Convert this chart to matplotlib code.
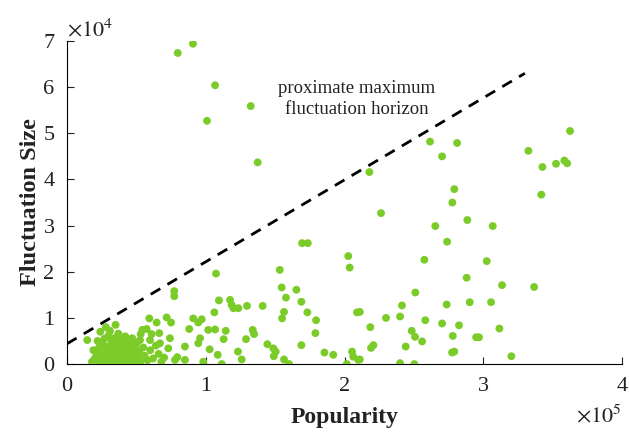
import matplotlib
matplotlib.use("Agg")
import matplotlib.pyplot as plt
import numpy as np

plt.rcParams['font.family'] = ['Liberation Serif', 'DejaVu Serif']
plt.rcParams['mathtext.fontset'] = 'stix'

# popularity in units of 1e5, fluctuation size in units of 1e4
pop_spread = [0.798, 0.908, 1.067, 1.324, 1.009, 1.374, 3.625, 3.325, 3.426, 3.524,
              3.584, 3.604, 3.418, 2.616, 2.811, 2.703, 2.179, 2.791, 2.777, 2.263,
              2.885, 2.654, 3.068, 2.739, 2.575, 3.025, 2.880, 3.135, 3.366, 2.510,
              2.414, 2.736, 2.902, 3.056, 2.299, 2.400, 2.582, 2.186, 2.703, 2.825,
              3.116, 2.484, 2.508, 2.559, 2.780, 2.948, 2.969, 2.208, 2.191, 2.441,
              2.775, 2.791, 3.202, 2.400, 2.503, 2.110, 2.110, 1.694, 1.735, 2.027,
              2.037, 1.074, 1.533, 1.547, 1.653, 1.578, 1.095, 1.689, 1.175, 1.187,
              1.199, 1.235, 1.297, 1.410, 1.062, 1.564, 1.550, 1.732, 2.090, 0.910,
              0.971, 0.946, 1.795, 0.881, 1.018, 1.067, 1.144, 1.338, 1.348, 1.790,
              0.959, 0.946, 1.129, 1.290, 0.850, 1.444, 1.487, 1.504, 1.490, 1.689,
              1.028, 1.232, 1.086, 1.259, 0.850, 0.982, 1.115, 1.564, 1.600, 1.855,
              1.919, 2.054, 2.063, 2.099, 2.016, 0.773, 0.773, 0.146, 0.593, 0.646,
              0.718, 0.750, 0.543, 0.531, 0.574, 0.610, 0.665, 0.473, 0.526, 0.598,
              0.742, 0.670, 0.730, 0.507, 0.778, 0.795]
fluct_spread = [6.74, 6.94, 6.04, 5.59, 5.27, 4.37, 5.05, 4.62, 4.27, 4.34,
                4.41, 4.35, 3.67, 4.82, 4.79, 4.50, 4.16, 3.79, 3.50, 3.27,
                3.12, 2.99, 2.99, 2.65, 2.26, 2.23, 1.87, 1.71, 1.67, 1.55,
                1.27, 1.29, 1.34, 1.34, 1.00, 1.03, 0.95, 0.80, 0.88, 0.84,
                0.77, 0.72, 0.59, 0.49, 0.61, 0.58, 0.58, 0.41, 0.35, 0.38,
                0.25, 0.27, 0.17, 0.02, 0.00, 1.13, 0.10, 2.62, 2.62, 2.34,
                2.09, 1.96, 2.04, 1.66, 1.61, 1.44, 1.38, 1.35, 1.39, 1.28,
                1.21, 1.21, 1.26, 1.26, 1.12, 1.13, 0.99, 1.12, 1.12, 0.99,
                0.97, 0.90, 0.95, 0.76, 0.74, 0.75, 0.72, 0.74, 0.65, 0.67,
                0.56, 0.45, 0.54, 0.54, 0.38, 0.43, 0.34, 0.27, 0.17, 0.41,
                0.32, 0.27, 0.20, 0.10, 0.09, 0.05, 0.00, 0.10, 0.00, 0.25,
                0.20, 0.27, 0.16, 0.09, 0.00, 1.58, 1.47, 0.52, 0.99, 0.90,
                1.01, 0.90, 0.74, 0.65, 0.76, 0.65, 0.67, 0.52, 0.52, 0.52,
                0.56, 0.45, 0.34, 0.09, 0.09, 0.15]

# dense cluster of low-popularity items
pop_cluster = [0.18, 0.20, 0.21, 0.22, 0.23, 0.24, 0.25, 0.25, 0.26, 0.27,
               0.27, 0.28, 0.29, 0.29, 0.30, 0.30, 0.31, 0.32, 0.32, 0.33,
               0.33, 0.34, 0.34, 0.35, 0.35, 0.36, 0.36, 0.37, 0.37, 0.38,
               0.38, 0.39, 0.39, 0.40, 0.40, 0.41, 0.41, 0.42, 0.42, 0.43,
               0.43, 0.44, 0.44, 0.45, 0.45, 0.46, 0.47, 0.47, 0.48, 0.49,
               0.49, 0.50, 0.51, 0.52, 0.53, 0.55, 0.56, 0.58, 0.60, 0.62,
               0.64, 0.66, 0.68, 0.70, 0.24, 0.28, 0.31, 0.19, 0.22, 0.35]
fluct_cluster = [0.05, 0.12, 0.25, 0.08, 0.35, 0.18, 0.02, 0.45, 0.28, 0.10,
                 0.55, 0.38, 0.20, 0.04, 0.62, 0.30, 0.14, 0.48, 0.02, 0.24,
                 0.40, 0.08, 0.56, 0.32, 0.16, 0.01, 0.44, 0.22, 0.66, 0.10,
                 0.36, 0.52, 0.18, 0.04, 0.28, 0.42, 0.12, 0.60, 0.22, 0.06,
                 0.34, 0.48, 0.15, 0.26, 0.02, 0.38, 0.10, 0.56, 0.20, 0.32,
                 0.04, 0.44, 0.15, 0.28, 0.05, 0.36, 0.18, 0.08, 0.30, 0.12,
                 0.40, 0.22, 0.05, 0.14, 0.70, 0.80, 0.72, 0.30, 0.50, 0.85]

# dashed horizon line end points (popularity, fluctuation)
horizon_pop = [0.0, 3.30]
horizon_fluct = [0.44, 6.30]

popularity = np.array(pop_spread + pop_cluster) * 1e5
fluctuation = np.array(fluct_spread + fluct_cluster) * 1e4

fig = plt.figure(figsize=(6.29, 4.36), dpi=100)
ax = fig.add_axes([0.1065, 0.165, 0.8825, 0.741])

ax.scatter(popularity, fluctuation, s=32, color='#7ccc29', edgecolors='none', zorder=3)
ax.plot(np.array(horizon_pop) * 1e5, np.array(horizon_fluct) * 1e4,
        color='black', linestyle=(0, (4, 3)), linewidth=2)

ax.text(2.09e5, 5.75e4, 'proximate maximum\nfluctuation horizon', ha='center', va='center',
        fontsize=13.5, linespacing=1.3, color='#222222')

ax.set_xlim(0, 4e5)
ax.set_ylim(0, 7e4)
ax.set_xticks(np.arange(0, 5) * 1e5)
ax.set_xticklabels([str(i) for i in range(5)])
ax.set_yticks(np.arange(0, 8) * 1e4)
ax.set_yticklabels([str(i) for i in range(8)])
ax.tick_params(direction='in', length=5, labelsize=16, colors='#222222')
ax.tick_params(axis='x', pad=9)
ax.tick_params(axis='y', pad=9)
ax.spines['top'].set_visible(False)
ax.spines['right'].set_visible(False)

ax.set_xlabel('Popularity', fontsize=17, fontweight='bold', labelpad=8, color='#222222')
ax.set_ylabel('Fluctuation Size', fontsize=17.5, fontweight='bold', labelpad=2, color='#222222')

ax.text(0.0, 1.0, r'$\times10^4$', transform=ax.transAxes, fontsize=16, ha='left', va='bottom',
        color='#222222')
ax.text(1.0, -0.125, r'$\times10^5$', transform=ax.transAxes, fontsize=16, ha='right', va='top',
        color='#222222')

fig.savefig('out.png', dpi=100)
